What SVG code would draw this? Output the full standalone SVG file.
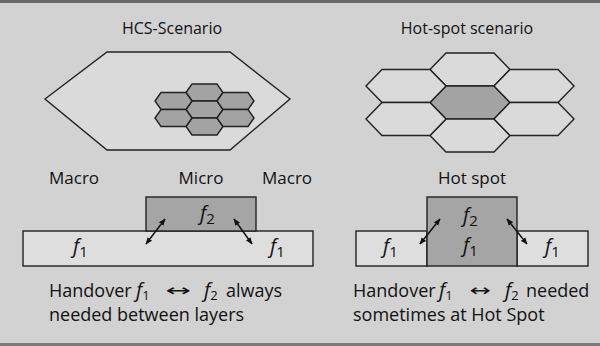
<svg xmlns="http://www.w3.org/2000/svg" width="600" height="346" viewBox="0 0 600 346">
<defs>
<style>
.t{font-family:"Open Sans","Noto Sans",sans-serif;fill:#111;font-size:17px}
.ttl{font-size:16px}
.cap{font-size:18px}
.f{font-family:"Open Sans","Noto Sans",sans-serif;font-style:italic;fill:#111;font-size:20px}
.sub{font-style:normal;font-size:15px}
.ar{font-family:"DejaVu Sans",sans-serif;font-size:16px;fill:#111}
.hex{fill:#dadada;stroke:#222;stroke-width:1.4}
.hexd{fill:#a3a3a3;stroke:#222;stroke-width:1.4}
.bar{fill:#dedede;stroke:#222;stroke-width:1.4}
.bard{fill:#a5a5a5;stroke:#222;stroke-width:1.4}
.arr{stroke:#111;stroke-width:1.5;fill:none;marker-start:url(#ah);marker-end:url(#ah)}
</style>
<marker id="ah" viewBox="0 0 10 10" refX="9" refY="5" markerWidth="7" markerHeight="7" markerUnits="userSpaceOnUse" orient="auto-start-reverse">
<path d="M0,1 L10,5 L0,9 Z" fill="#111"/>
</marker>
</defs>
<rect x="0" y="0" width="600" height="346" fill="#d2d2d2"/>
<rect x="0" y="0" width="600" height="3" fill="#6a6a6a"/>
<rect x="0" y="343" width="600" height="3" fill="#7a7a7a"/>

<g id="hcs-scenario">
<text class="t ttl" x="172" y="34" text-anchor="middle">HCS-Scenario</text>
<polygon class="hex" points="45,99 107,52 230,52 290,99 230,150 107,150"/>
<g id="micro-cluster">
<polygon class="hexd" points="186,92.5 192,84 217,84 223,92.5 217,101 192,101"/>
<polygon class="hexd" points="186,109.5 192,101 217,101 223,109.5 217,118 192,118"/>
<polygon class="hexd" points="186,126.5 192,118 217,118 223,126.5 217,135 192,135"/>
<polygon class="hexd" points="155,101 161,92.5 186,92.5 192,101 186,109.5 161,109.5"/>
<polygon class="hexd" points="155,118 161,109.5 186,109.5 192,118 186,126.5 161,126.5"/>
<polygon class="hexd" points="217,101 223,92.5 248,92.5 254,101 248,109.5 223,109.5"/>
<polygon class="hexd" points="217,118 223,109.5 248,109.5 254,118 248,126.5 223,126.5"/>
</g>
</g>

<g id="hotspot-scenario">
<text class="t ttl" x="467" y="34" text-anchor="middle">Hot-spot scenario</text>
<polygon class="hex" points="430,69.5 446,53 494,53 510,69.5 494,86 446,86"/>
<polygon class="hexd" points="430,102.5 446,86 494,86 510,102.5 494,119 446,119"/>
<polygon class="hex" points="430,135.5 446,119 494,119 510,135.5 494,152 446,152"/>
<polygon class="hex" points="366,86 382,69.5 430,69.5 446,86 430,102.5 382,102.5"/>
<polygon class="hex" points="366,119 382,102.5 430,102.5 446,119 430,135.5 382,135.5"/>
<polygon class="hex" points="494,86 510,69.5 558,69.5 574,86 558,102.5 510,102.5"/>
<polygon class="hex" points="494,119 510,102.5 558,102.5 574,119 558,135.5 510,135.5"/>
</g>

<g id="hcs-layers">
<text class="t" x="49" y="184">Macro</text>
<text class="t" x="201" y="184" text-anchor="middle">Micro</text>
<text class="t" x="262" y="184">Macro</text>
<rect class="bar" x="23" y="231" width="290" height="35"/>
<rect class="bard" x="146" y="197" width="110" height="34"/>
<text class="f" x="200" y="220">f<tspan class="sub" dy="4">2</tspan></text>
<text class="f" x="73" y="253">f<tspan class="sub" dy="4">1</tspan></text>
<text class="f" x="270" y="253">f<tspan class="sub" dy="4">1</tspan></text>
</g>

<g id="hotspot-layers">
<text class="t" x="472" y="184" text-anchor="middle">Hot spot</text>
<rect class="bar" x="356" y="231" width="71" height="35"/>
<rect class="bar" x="517" y="231" width="71" height="35"/>
<rect class="bard" x="427" y="197" width="90" height="69"/>
<text class="f" x="463" y="222">f<tspan class="sub" dy="4">2</tspan></text>
<text class="f" x="463" y="252">f<tspan class="sub" dy="4">1</tspan></text>
<text class="f" x="383" y="253">f<tspan class="sub" dy="4">1</tspan></text>
<text class="f" x="545" y="253">f<tspan class="sub" dy="4">1</tspan></text>
</g>

<g id="connectors">
<line class="arr" x1="146" y1="244" x2="165" y2="219"/>
<line class="arr" x1="234" y1="219" x2="252" y2="244"/>
<line class="arr" x1="420" y1="244" x2="440" y2="219"/>
<line class="arr" x1="507" y1="219" x2="527" y2="244"/>
</g>

<g id="captions">
<text class="t cap" x="49" y="297">Handover <tspan x="136" font-style="italic" font-size="20">f</tspan><tspan font-size="13" dy="3">1</tspan><tspan x="204" dy="-3" font-style="italic" font-size="20">f</tspan><tspan font-size="13" dy="3">2</tspan><tspan x="226" dy="-3">always</tspan></text>
<text class="ar" transform="translate(178,296) scale(1.9,1)" text-anchor="middle">↔</text>
<text class="t cap" x="49" y="321">needed between layers</text>
<text class="t cap" x="353" y="297">Handover <tspan x="439" font-style="italic" font-size="20">f</tspan><tspan font-size="13" dy="3">1</tspan><tspan x="505" dy="-3" font-style="italic" font-size="20">f</tspan><tspan font-size="13" dy="3">2</tspan><tspan x="526" dy="-3">needed</tspan></text>
<text class="ar" transform="translate(480,296) scale(1.6,1)" text-anchor="middle">↔</text>
<text class="t cap" x="353" y="321">sometimes at Hot Spot</text>
</g>
</svg>
